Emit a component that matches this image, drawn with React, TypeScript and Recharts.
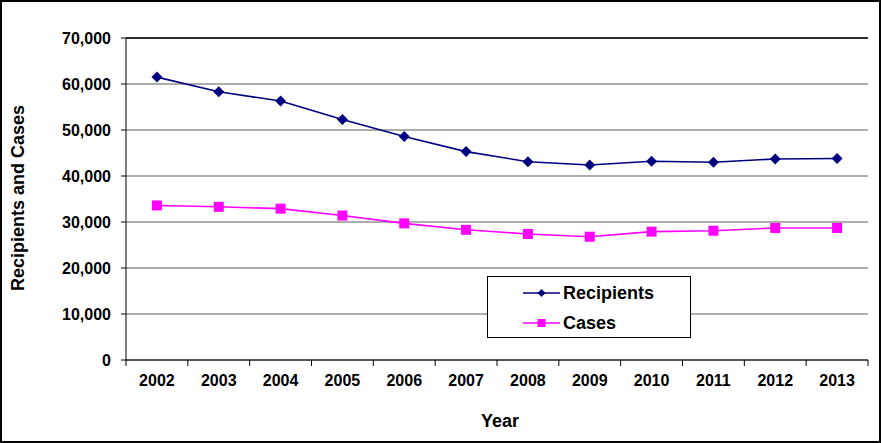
import React from "react"
import {
  CartesianGrid,
  Legend,
  Line,
  LineChart,
  ReferenceLine,
  XAxis,
  YAxis
} from "recharts"

const years = ["2002", "2003", "2004", "2005", "2006", "2007", "2008", "2009", "2010", "2011", "2012", "2013"]
const recipients = [61500, 58300, 56300, 52300, 48600, 45300, 43100, 42400, 43200, 43000, 43700, 43800]
const cases = [33600, 33300, 32900, 31400, 29700, 28300, 27400, 26800, 27900, 28100, 28700, 28700]
const yTicks = [0, 10000, 20000, 30000, 40000, 50000, 60000, 70000]

const data = years.map((year, i) => ({
  year,
  recipients: recipients[i],
  cases: cases[i]
}))

const FONT = "Arial, 'Liberation Sans', sans-serif"
const NAVY = "#000080"
const PINK = "#FF00FF"
const PLOT_LEFT = 126
const PLOT_RIGHT = 868
const BAND = (PLOT_RIGHT - PLOT_LEFT) / years.length

const Diamond = ({ cx, cy, r = 5, fill = NAVY }: any) => (
  <path
    d={`M${cx},${cy - r} L${cx + r},${cy} L${cx},${cy + r} L${cx - r},${cy} Z`}
    fill={fill}
  />
)

const Square = ({ cx, cy, r = 5, fill = PINK }: any) => (
  <rect x={cx - r} y={cy - r} width={r * 2} height={r * 2} fill={fill} />
)

const YearTick = (props: any) => {
  const { x, y, payload, index } = props
  const axisY = y - 15
  const left = x - BAND / 2
  return (
    <g>
      <line x1={left} y1={axisY} x2={left} y2={axisY + 6} stroke="#000" />
      {index === years.length - 1 && (
        <line x1={left + BAND} y1={axisY} x2={left + BAND} y2={axisY + 6} stroke="#000" />
      )}
      <text
        x={x}
        y={y}
        dy={11.4}
        textAnchor="middle"
        fontSize={16}
        fontWeight="bold"
        fontFamily={FONT}
        fill="#000"
      >
        {payload.value}
      </text>
    </g>
  )
}

const LegendBox = () => (
  <div
    style={{
      boxSizing: "border-box",
      width: 204,
      height: 62,
      border: "1px solid #000",
      background: "#fff",
      fontFamily: FONT,
      fontSize: 18,
      fontWeight: "bold",
      position: "relative"
    }}
  >
    {[
      { name: "Recipients", color: NAVY, top: 16, shape: "diamond" },
      { name: "Cases", color: PINK, top: 46, shape: "square" }
    ].map(item => (
      <div key={item.name}>
        <svg
          width={40}
          height={12}
          style={{ position: "absolute", left: 35, top: item.top - 6 }}
        >
          <line x1={0} y1={6} x2={37} y2={6} stroke={item.color} strokeWidth={1.5} />
          {item.shape === "diamond" ? (
            <Diamond cx={18.5} cy={6} r={4} fill={item.color} />
          ) : (
            <Square cx={18.5} cy={6} r={4} fill={item.color} />
          )}
        </svg>
        <span
          style={{
            position: "absolute",
            left: 75,
            top: item.top - 11,
            lineHeight: "22px"
          }}
        >
          {item.name}
        </span>
      </div>
    ))}
  </div>
)

export default function App() {
  return (
    <div style={{ position: "absolute", left: 0, top: 0, width: 881, height: 443, background: "#fff" }}>
      <LineChart
        width={881}
        height={443}
        data={data}
        margin={{ top: 38, right: 13, bottom: 0, left: 0 }}
      >
        <CartesianGrid vertical={false} stroke="#5a5a5a" />
        <ReferenceLine y={70000} stroke="#000" strokeWidth={1.5} />
        <XAxis
          dataKey="year"
          scale="band"
          height={83}
          tickSize={5}
          tickMargin={10}
          tickLine={false}
          axisLine={{ stroke: "#000" }}
          tick={<YearTick />}
          interval={0}
          label={{
            value: "Year",
            content: () => (
              <text
                x={500}
                y={427}
                textAnchor="middle"
                fontSize={18}
                fontWeight="bold"
                fontFamily={FONT}
                fill="#000"
              >
                Year
              </text>
            )
          }}
        />
        <YAxis
          width={126}
          domain={[0, 70000]}
          ticks={yTicks}
          interval={0}
          tickSize={5}
          tickMargin={10}
          tickLine={{ stroke: "#000" }}
          axisLine={{ stroke: "#000" }}
          tickFormatter={(v: number) => v.toLocaleString("en-US")}
          tick={{ fill: "#000", fontSize: 16, fontWeight: "bold", fontFamily: FONT }}
          label={{
            value: "Recipients and Cases",
            content: () => (
              <text
                x={24}
                y={198}
                transform="rotate(-90 24 198)"
                textAnchor="middle"
                fontSize={18}
                fontWeight="bold"
                fontFamily={FONT}
                fill="#000"
              >
                Recipients and Cases
              </text>
            )
          }}
        />
        <YAxis
          yAxisId="right"
          orientation="right"
          width={0}
          domain={[0, 70000]}
          tick={false}
          tickLine={false}
          axisLine={{ stroke: "#000", strokeWidth: 1.5 }}
        />
        <Legend
          layout="vertical"
          align="center"
          verticalAlign="middle"
          content={<LegendBox />}
          wrapperStyle={{ left: 487, top: 276, width: 204, height: 62 }}
        />
        <Line
          type="linear"
          dataKey="recipients"
          name="Recipients"
          stroke={NAVY}
          strokeWidth={1.6}
          dot={(p: any) => <Diamond key={`r${p.index}`} cx={p.cx} cy={p.cy} r={5.5} />}
          isAnimationActive={false}
        />
        <Line
          type="linear"
          dataKey="cases"
          name="Cases"
          stroke={PINK}
          strokeWidth={1.6}
          dot={(p: any) => <Square key={`c${p.index}`} cx={p.cx} cy={p.cy} r={5} />}
          isAnimationActive={false}
        />
      </LineChart>
      <div
        style={{
          position: "absolute",
          left: 0,
          top: 0,
          width: 881,
          height: 443,
          boxSizing: "border-box",
          border: "2px solid #000",
          pointerEvents: "none"
        }}
      />
    </div>
  )
}
